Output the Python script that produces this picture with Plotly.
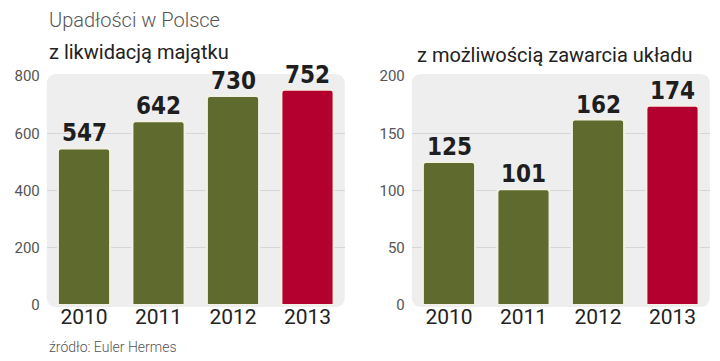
import plotly.graph_objects as go

years = ["2010", "2011", "2012", "2013"]
liquidation = [547, 642, 730, 752]
arrangement = [125, 101, 162, 174]
bar_colors = ["#5f6a2e", "#5f6a2e", "#5f6a2e", "#b3002f"]
left_ticks = [0, 200, 400, 600, 800]
right_ticks = [0, 50, 100, 150, 200]

W, H = 720, 361
fig = go.Figure()

valfont = dict(family="Liberation Sans Narrow, DejaVu Sans Condensed, sans-serif",
               size=24, color="#1e1e1e", weight="bold")
annotations = []

def add_bars(vals, xa, ya):
    fig.add_trace(go.Bar(
        x=years, y=vals, xaxis=xa, yaxis=ya,
        marker=dict(color=bar_colors, line=dict(color="#f3f1e4", width=2), cornerradius=3),
        width=0.7, cliponaxis=False, showlegend=False, hoverinfo="skip",
    ))
    for i, v in enumerate(vals):
        annotations.append(dict(text=str(v), x=i, y=v, xref=xa, yref=ya,
                                xanchor="center", yanchor="bottom", yshift=-1,
                                showarrow=False, font=valfont))

add_bars(liquidation, "x", "y")
add_bars(arrangement, "x2", "y2")

# domains (pixels -> paper)
lx0, lx1 = 46.75 / W, 344.75 / W
rx0, rx1 = 411.75 / W, 709.75 / W
y0, y1 = (H - 305) / H, (H - 76) / H

def rounded(x0, x1, y0, y1, r=10):
    rx, ry = r / W, r / H
    return (f"M {x0+rx},{y0} L {x1-rx},{y0} Q {x1},{y0} {x1},{y0+ry} "
            f"L {x1},{y1-ry} Q {x1},{y1} {x1-rx},{y1} L {x0+rx},{y1} "
            f"Q {x0},{y1} {x0},{y1-ry} L {x0},{y0+ry} Q {x0},{y0} {x0+rx},{y0} Z")

shapes = []
for a, b in [(lx0, lx1), (rx0, rx1)]:
    shapes.append(dict(type="path", xref="paper", yref="paper",
                       path=rounded(a, b, y0 - 2 / H, y1 + 2 / H),
                       fillcolor="#eeeeef", line=dict(width=0), layer="below"))

tickfont = dict(family="Roboto, Open Sans, sans-serif", size=15, color="#555555")
yearfont = dict(family="Roboto, Open Sans, sans-serif", size=21, color="#222222")

common_x = dict(type="category", showgrid=False, zeroline=False, showline=False,
                ticks="", tickfont=yearfont, range=[-0.5, 3.5], fixedrange=True,
                automargin=False, ticklabelstandoff=-3)
common_y = dict(showgrid=True, gridcolor="#d6d6d8", gridwidth=1, zeroline=False,
                showline=False, ticks="", tickfont=tickfont, fixedrange=True,
                ticklabelstandoff=6, automargin=False)

annotations += [
    dict(text="Upadłości w Polsce", x=47 / W, y=1 - 20 / H, xref="paper", yref="paper",
         xanchor="left", yanchor="middle", showarrow=False,
         font=dict(family="Roboto, sans-serif", size=20, color="#555555", weight=300)),
    dict(text="z likwidacją majątku", x=47 / W, y=1 - 52 / H, xref="paper", yref="paper",
         xanchor="left", yanchor="middle", showarrow=False,
         font=dict(family="Roboto, sans-serif", size=20, color="#222222")),
    dict(text="z możliwością zawarcia układu", x=415 / W, y=1 - 55 / H, xref="paper", yref="paper",
         xanchor="left", yanchor="middle", showarrow=False,
         font=dict(family="Roboto, sans-serif", size=20, color="#222222")),
    dict(text="źródło: Euler Hermes", x=47 / W, y=1 - 347 / H, xref="paper", yref="paper",
         xanchor="left", yanchor="middle", showarrow=False,
         font=dict(family="Roboto, sans-serif", size=14, color="#555555", weight=300)),
]

fig.update_layout(
    template="none",
    width=W, height=H, autosize=False,
    margin=dict(l=0, r=0, t=0, b=0, pad=0, autoexpand=False),
    paper_bgcolor="white", plot_bgcolor="rgba(0,0,0,0)",
    xaxis=dict(domain=[lx0, lx1], anchor="y", **common_x),
    yaxis=dict(domain=[y0, y1], anchor="x", range=[0, 800], tickvals=left_ticks, **common_y),
    xaxis2=dict(domain=[rx0, rx1], anchor="y2", **common_x),
    yaxis2=dict(domain=[y0, y1], anchor="x2", range=[0, 200], tickvals=right_ticks, **common_y),
    shapes=shapes,
    annotations=annotations,
    bargap=0.3,
)

fig.write_html("out.html", config={"displayModeBar": False},
               post_script="document.body.style.margin='0px';")
